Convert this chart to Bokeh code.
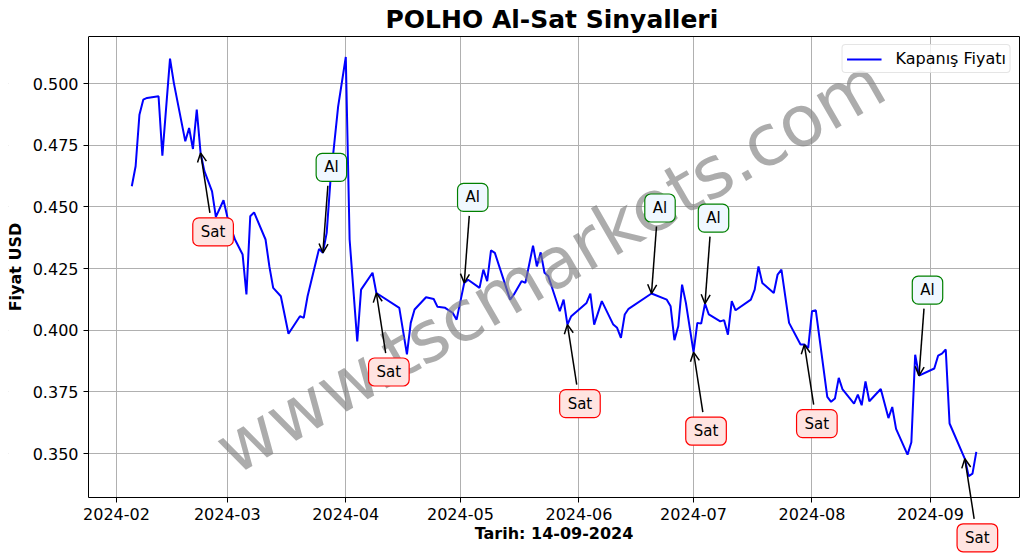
import pandas as pd
from bokeh.plotting import figure
from bokeh.models import (Range1d, FixedTicker, MonthsTicker, DatetimeTickFormatter,
                          NumeralTickFormatter, Label, Arrow, OpenHead, ColumnDataSource,
                          LinearAxis, BoxAnnotation)
from bokeh.embed import file_html
from bokeh.resources import INLINE

# ---------------- data ----------------
dates = [
    "2024-02-05", "2024-02-06", "2024-02-07", "2024-02-08", "2024-02-09", "2024-02-12",
    "2024-02-13", "2024-02-15", "2024-02-16", "2024-02-19", "2024-02-20", "2024-02-21",
    "2024-02-22", "2024-02-23", "2024-02-24", "2024-02-26", "2024-02-27", "2024-02-29",
    "2024-03-01", "2024-03-03", "2024-03-05", "2024-03-06", "2024-03-07", "2024-03-08",
    "2024-03-11", "2024-03-12", "2024-03-13", "2024-03-15", "2024-03-17", "2024-03-20",
    "2024-03-21", "2024-03-22", "2024-03-25", "2024-03-26", "2024-03-27", "2024-03-28",
    "2024-03-30", "2024-04-01", "2024-04-02", "2024-04-04", "2024-04-05", "2024-04-08",
    "2024-04-09", "2024-04-15", "2024-04-17", "2024-04-18", "2024-04-19", "2024-04-22",
    "2024-04-24", "2024-04-25", "2024-04-27", "2024-04-29", "2024-04-30", "2024-05-02",
    "2024-05-03", "2024-05-06", "2024-05-07", "2024-05-08", "2024-05-09", "2024-05-10",
    "2024-05-14", "2024-05-15", "2024-05-17", "2024-05-18", "2024-05-20", "2024-05-21",
    "2024-05-22", "2024-05-23", "2024-05-24", "2024-05-27", "2024-05-28", "2024-05-29",
    "2024-05-30", "2024-06-03", "2024-06-04", "2024-06-05", "2024-06-07", "2024-06-10",
    "2024-06-11", "2024-06-12", "2024-06-13", "2024-06-14", "2024-06-20", "2024-06-24",
    "2024-06-25", "2024-06-26", "2024-06-27", "2024-06-28", "2024-06-29", "2024-07-01",
    "2024-07-02", "2024-07-03", "2024-07-04", "2024-07-05", "2024-07-08", "2024-07-09",
    "2024-07-10", "2024-07-11", "2024-07-12", "2024-07-16", "2024-07-17", "2024-07-18",
    "2024-07-19", "2024-07-22", "2024-07-23", "2024-07-24", "2024-07-26", "2024-07-29",
    "2024-07-30", "2024-07-31", "2024-08-01", "2024-08-02", "2024-08-05", "2024-08-06",
    "2024-08-07", "2024-08-08", "2024-08-09", "2024-08-12", "2024-08-13", "2024-08-14",
    "2024-08-15", "2024-08-16", "2024-08-19", "2024-08-21", "2024-08-22", "2024-08-23",
    "2024-08-26", "2024-08-27", "2024-08-28", "2024-08-29", "2024-09-02", "2024-09-03",
    "2024-09-04", "2024-09-05", "2024-09-06", "2024-09-10", "2024-09-11", "2024-09-12",
    "2024-09-13",
]
close = [
    0.4584, 0.4665, 0.4874, 0.4935, 0.4942, 0.4949,
    0.4708, 0.5101, 0.5003, 0.4766, 0.4820, 0.4735,
    0.4895, 0.4719, 0.4645, 0.4563, 0.4460, 0.4527,
    0.4460, 0.4368, 0.4307, 0.4145, 0.4462, 0.4478,
    0.4368, 0.4259, 0.4172, 0.4138, 0.3986, 0.4057,
    0.4050, 0.4138, 0.4330, 0.4314, 0.4395, 0.4611,
    0.4908, 0.5108, 0.4368, 0.3955, 0.4165, 0.4233,
    0.4151, 0.4091, 0.3902, 0.4030, 0.4084, 0.4134,
    0.4127, 0.4095, 0.4091, 0.4070, 0.4043, 0.4192,
    0.4205, 0.4172, 0.4246, 0.4199, 0.4324, 0.4314,
    0.4124, 0.4145, 0.4199, 0.4192, 0.4343, 0.4259,
    0.4316, 0.4233, 0.4219, 0.4077, 0.4124, 0.4023,
    0.4057, 0.4111, 0.4149, 0.4023, 0.4118, 0.4023,
    0.4010, 0.3969, 0.4064, 0.4087, 0.4149, 0.4124,
    0.4097, 0.3960, 0.4016, 0.4185, 0.4111, 0.3911,
    0.4030, 0.4027, 0.4108, 0.4064, 0.4036, 0.4041,
    0.3982, 0.4118, 0.4081, 0.4124, 0.4165, 0.4259,
    0.4192, 0.4151, 0.4226, 0.4246, 0.4030, 0.3942,
    0.3942, 0.3928, 0.4077, 0.4081, 0.3730, 0.3710,
    0.3723, 0.3807, 0.3760, 0.3703, 0.3739, 0.3696,
    0.3793, 0.3712, 0.3762, 0.3644, 0.3689, 0.3600,
    0.3496, 0.3546, 0.3901, 0.3816, 0.3845, 0.3897,
    0.3905, 0.3922, 0.3622, 0.3479, 0.3408, 0.3419,
    0.3507,
]
sig_dates = ["2024-02-23", "2024-03-26", "2024-04-09", "2024-05-02", "2024-05-29",
             "2024-06-20", "2024-07-01", "2024-07-04", "2024-07-30", "2024-08-29",
             "2024-09-10"]
sig_types = ["Sat", "Al", "Sat", "Al", "Sat", "Al", "Sat", "Al", "Sat", "Al", "Sat"]
y_ticks = [0.350, 0.375, 0.400, 0.425, 0.450, 0.475, 0.500]

title_text = "POLHO Al-Sat Sinyalleri"
x_label = "Tarih: 14-09-2024"
y_label = "Fiyat USD"
legend_text = "Kapanış Fiyatı"
watermark = "www.tscmarkets.com"

# ---------------- figure ----------------
FONT = "DejaVu Sans"
FW, FH = 931, 461          # visible axes box
LEFT = 80                  # room for the y axis, kept inside the frame
FW_EXT = FW + LEFT
FH_EXT = 519               # frame extended down so the last box is not clipped


def ms(t):
    return pd.Timestamp(t).value / 1e6


base = pd.Timestamp("2024-02-01")
x0 = ms(base - pd.Timedelta(days=7.33))
x1 = ms(base + pd.Timedelta(days=236.3))
y0, y1 = 0.3322, 0.5191
px_per_ms = FW / (x1 - x0)
px_per_unit = FH / (y1 - y0)
y0_ext = y0 - (FH_EXT - FH) / px_per_unit
x0_ext = x0 - LEFT / px_per_ms

x = pd.to_datetime(dates)
close_by_date = dict(zip(dates, close))

p = figure(x_axis_type="datetime", frame_width=FW_EXT, frame_height=FH_EXT,
           x_range=Range1d(x0_ext, x1), y_range=Range1d(y0_ext, y1),
           output_backend="svg", toolbar_location=None,
           min_border_left=8, min_border_right=1, min_border_top=29, min_border_bottom=0)
p.background_fill_color = "white"
p.border_fill_color = "white"
p.outline_line_color = None

p.title.text = title_text
p.title.align = "left"
p.title.text_font = FONT
p.title.text_font_size = "25px"
p.title.text_font_style = "bold"
p.title.text_color = "black"
p.title.standoff = 5
p.title.offset = 377

xa = p.xaxis[0]
ya = p.yaxis[0]

xt = MonthsTicker(months=list(range(12)))
xa.ticker = xt
p.xgrid.ticker = xt
fmt = "%Y-%m"
xa.formatter = DatetimeTickFormatter(months=fmt, days=fmt, years=fmt, hours=fmt)
yt = FixedTicker(ticks=y_ticks)
ya.ticker = yt
p.ygrid.ticker = yt
ya.formatter = NumeralTickFormatter(format="0.000")

for ax in (xa, ya):
    ax.major_label_text_font = FONT
    ax.major_label_text_font_size = "16px"
    ax.major_label_text_color = "black"
    ax.axis_label_text_font = FONT
    ax.axis_label_text_font_size = "16px"
    ax.axis_label_text_font_style = "bold"
    ax.axis_label_text_color = "black"
    ax.major_tick_out = 5
    ax.major_tick_in = 0
    ax.minor_tick_out = 0
    ax.minor_tick_in = 0
    ax.axis_line_color = "black"
    ax.major_tick_line_color = "black"
xa.axis_label = x_label
ya.axis_label = y_label
xa.axis_label_standoff = 1
xa.fixed_location = y0
xa.bounds = (x0, x1)
ya.fixed_location = x0
ya.bounds = (y0, y1)

p.grid.grid_line_color = "#b0b0b0"
p.grid.grid_line_width = 1

# white bands outside the axes box hide the grid lines there
p.add_layout(BoxAnnotation(bottom=y0_ext, top=y0, left=x0_ext, right=x1,
                           fill_color="white", fill_alpha=1.0,
                           line_color=None, level="underlay"))
p.add_layout(BoxAnnotation(bottom=y0_ext, top=y1, left=x0_ext, right=x0,
                           fill_color="white", fill_alpha=1.0,
                           line_color=None, level="underlay"))

# top and right edges of the axes box
edge_kw = dict(ticker=FixedTicker(ticks=[]), major_tick_out=0, major_tick_in=0,
               minor_tick_out=0, minor_tick_in=0, major_label_standoff=0,
               axis_line_color="black", axis_line_width=1)
p.add_layout(LinearAxis(bounds=(y0, y1), **edge_kw), "right")
p.add_layout(LinearAxis(bounds=(x0, x1), **edge_kw), "above")

# watermark
wm = Label(x=ms(base + pd.Timedelta(days=113.5)), y=0.4262, text=watermark,
           text_font=FONT, text_font_size="71px", text_color="gray", text_alpha=0.65,
           text_align="center", text_baseline="middle", angle=30, angle_units="deg")
p.add_layout(wm)

p.line(x, close, line_color="blue", line_width=2, legend_label=legend_text)


def set_opt(model, **kw):
    for k, v in kw.items():
        try:
            setattr(model, k, v)
        except Exception:
            pass


# signals
xs0, ys0, xs1, ys1 = [], [], [], []
for d, t in zip(sig_dates, sig_types):
    xd = ms(d)
    yv = close_by_date[d]
    if t == "Al":
        dx_px, dy_px = 5.0, 67.0
        lx, ly = 8.5, 85.5
        fill, border = "#f0f8ff", "green"
    else:
        dx_px, dy_px = 9.3, -60.0
        lx, ly = 12.5, -79.0
        fill, border = "#ffe4e1", "red"
    xs0.append(xd + dx_px / px_per_ms)
    ys0.append(yv + dy_px / px_per_unit)
    xs1.append(xd)
    ys1.append(yv)
    lab = Label(x=xd, y=yv, x_offset=lx, y_offset=ly, text=t,
                text_font=FONT, text_font_size="15px", text_color="black",
                text_align="center", text_baseline="middle",
                background_fill_color=fill, border_line_color=border,
                border_line_width=1.2)
    set_opt(lab, border_radius=6, padding=(8, 5))
    p.add_layout(lab)

asrc = ColumnDataSource(dict(x0=xs0, y0=ys0, x1=xs1, y1=ys1))
p.add_layout(Arrow(end=OpenHead(size=9, line_width=1.5, line_color="black"),
                   x_start="x0", y_start="y0", x_end="x1", y_end="y1",
                   line_width=1.5, line_color="black", source=asrc))

lg = p.legend[0]
lg.location = "top_right"
lg.label_text_font = FONT
lg.label_text_font_size = "16px"
lg.label_text_color = "black"
lg.border_line_color = "#cccccc"
lg.border_line_width = 1
lg.background_fill_alpha = 0.8
lg.margin = 8
lg.padding = 4
lg.glyph_width = 35
lg.glyph_height = 18
lg.label_standoff = 14
lg.label_height = 18
set_opt(lg, border_radius=4)

open("out.html", "w").write(file_html(p, INLINE))
